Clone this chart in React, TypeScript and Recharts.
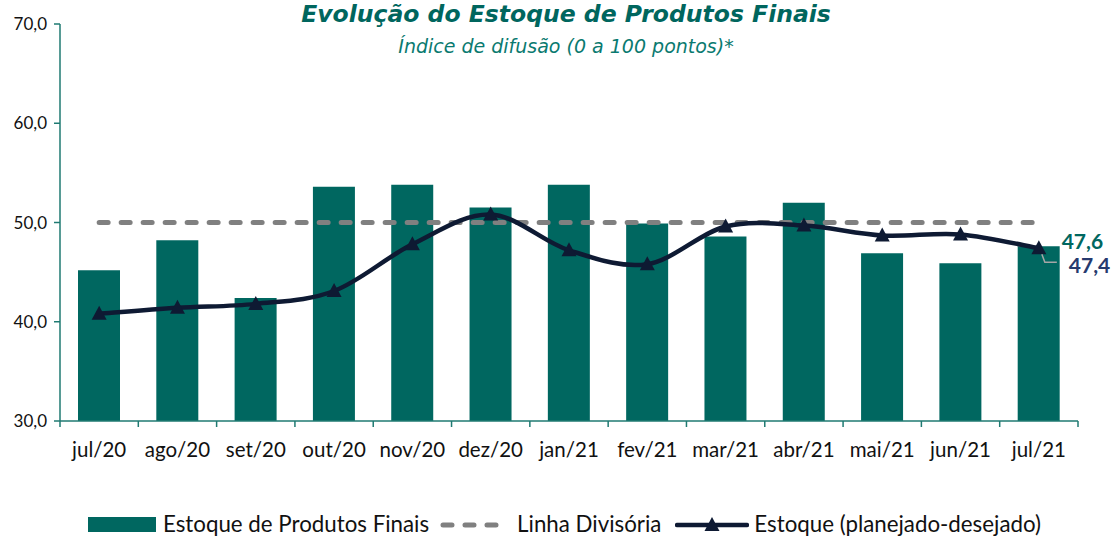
import { ComposedChart, Bar, Line, XAxis, YAxis, LabelList } from 'recharts';

const months = ['jul/20', 'ago/20', 'set/20', 'out/20', 'nov/20', 'dez/20', 'jan/21', 'fev/21', 'mar/21', 'abr/21', 'mai/21', 'jun/21', 'jul/21'];
const estoqueFinais = [45.2, 48.2, 42.4, 53.6, 53.8, 51.5, 53.8, 49.9, 48.6, 52.0, 46.9, 45.9, 47.6];
const planejadoDesejado = [40.8, 41.4, 41.8, 43.1, 47.8, 50.8, 47.2, 45.8, 49.6, 49.7, 48.7, 48.8, 47.4];
const linhaDivisoria = [50, 50, 50, 50, 50, 50, 50, 50, 50, 50, 50, 50, 50];
const yTicks = [30, 40, 50, 60, 70];

const data = months.map((m, i) => ({
  mes: m,
  estoque: estoqueFinais[i],
  linha: linhaDivisoria[i],
  planejado: planejadoDesejado[i],
}));

const TEAL = '#006760';
const NAVY = '#0e1a33';
const AXIS = '#1f7a72';
const FONT = 'Lato, "Open Sans", sans-serif';
const TITLE_FONT = '"DejaVu Sans", Lato, sans-serif';

const W = 1114;
const H = 536;
const LEFT = 60;
const RIGHT = 36;
const TOP = 24;
const BOTTOM = 115;
const band = (W - LEFT - RIGHT) / months.length;

// smooth line like the spreadsheet one (catmull-rom style bezier)
function smoothCurve(context: any) {
  let pts: number[][] = [];
  return {
    areaStart() {},
    areaEnd() {},
    lineStart() {
      pts = [];
    },
    point(x: number, y: number) {
      pts.push([+x, +y]);
    },
    lineEnd() {
      if (!pts.length) return;
      context.moveTo(pts[0][0], pts[0][1]);
      for (let i = 0; i < pts.length - 1; i++) {
        const p0 = pts[i - 1] || pts[i];
        const p1 = pts[i];
        const p2 = pts[i + 1];
        const p3 = pts[i + 2] || p2;
        context.bezierCurveTo(
          p1[0] + (p2[0] - p0[0]) / 6,
          p1[1] + (p2[1] - p0[1]) / 6,
          p2[0] - (p3[0] - p1[0]) / 6,
          p2[1] - (p3[1] - p1[1]) / 6,
          p2[0],
          p2[1]
        );
      }
    },
  };
}

const Triangle = (props: any) => {
  const { cx, cy } = props;
  if (cx == null || cy == null) return null;
  return <polygon points={`${cx},${cy - 8} ${cx - 7.5},${cy + 6} ${cx + 7.5},${cy + 6}`} fill={NAVY} />;
};

const XTick = (props: any) => {
  const { x, y, payload, index } = props;
  return (
    <g>
      <line x1={x - band / 2} y1={y} x2={x - band / 2} y2={y + 6} stroke={AXIS} strokeWidth={1.5} />
      {index === months.length - 1 && (
        <line x1={x + band / 2} y1={y} x2={x + band / 2} y2={y + 6} stroke={AXIS} strokeWidth={1.5} />
      )}
      <text x={x} y={y + 36} textAnchor="middle" fontSize={20.5} fill="#111" fontFamily={FONT}>
        {payload.value}
      </text>
    </g>
  );
};

const BarLabel = (props: any) => {
  const { x, y, width, index } = props;
  if (index !== months.length - 1) return null;
  return (
    <text x={x + width + 2} y={y + 3} fontSize={21} fontWeight={700} fill={TEAL} fontFamily={FONT}>
      {estoqueFinais[index].toFixed(1).replace('.', ',')}
    </text>
  );
};

const LineLabel = (props: any) => {
  const { x, y, index } = props;
  if (index !== months.length - 1) return null;
  return (
    <g>
      <polyline points={`${x + 3},${y + 6} ${x + 6},${y + 14} ${x + 18},${y + 14}`} fill="none" stroke="#a6a6a6" strokeWidth={1.5} />
      <text x={x + 30} y={y + 25} fontSize={21} fontWeight={700} fill="#263a6e" fontFamily={FONT}>
        {planejadoDesejado[index].toFixed(1).replace('.', ',')}
      </text>
    </g>
  );
};

const LegendRow = () => (
  <div
    style={{
      position: 'absolute',
      top: 511,
      left: 88,
      display: 'flex',
      alignItems: 'center',
      fontFamily: FONT,
      fontSize: 22.3,
      lineHeight: '26px',
      color: '#111',
      whiteSpace: 'nowrap',
    }}
  >
    <svg width={68} height={18}>
      <rect x={0} y={2} width={68} height={15} fill={TEAL} />
    </svg>
    <span style={{ marginLeft: 7, marginRight: 10 }}>Estoque de Produtos Finais</span>
    <svg width={66} height={18}>
      <line x1={4} y1={10} x2={62} y2={10} stroke="#808080" strokeWidth={5} strokeDasharray="9 13" strokeLinecap="round" />
    </svg>
    <span style={{ marginLeft: 12, marginRight: 14 }}>Linha Divisória</span>
    <svg width={74} height={18}>
      <line x1={2} y1={10} x2={72} y2={10} stroke={NAVY} strokeWidth={4.5} strokeLinecap="round" />
      <polygon points="37,2 29.5,16 44.5,16" fill={NAVY} />
    </svg>
    <span style={{ marginLeft: 5 }}>Estoque (planejado-desejado)</span>
  </div>
);

export default function App() {
  return (
    <div style={{ position: 'absolute', left: 0, top: 0, width: W, height: H, background: '#fff' }}>
      <div
        style={{
          position: 'absolute',
          top: 0,
          left: 18,
          width: W - 18,
          textAlign: 'center',
          fontFamily: TITLE_FONT,
          color: '#00665e',
          fontSize: 23.5,
          fontWeight: 700,
          fontStyle: 'italic',
          whiteSpace: 'nowrap',
        }}
      >
        Evolução do Estoque de Produtos Finais
      </div>
      <div
        style={{
          position: 'absolute',
          top: 35,
          left: 18,
          width: W - 18,
          textAlign: 'center',
          fontFamily: TITLE_FONT,
          color: '#0a7a70',
          fontSize: 19,
          fontStyle: 'italic',
          whiteSpace: 'nowrap',
        }}
      >
        Índice de difusão (0 a 100 pontos)*
      </div>
      <ComposedChart width={W} height={H} data={data} margin={{ top: TOP, right: RIGHT, left: 0, bottom: BOTTOM - 40 }}>
        <XAxis
          dataKey="mes"
          height={40}
          tickSize={0}
          tickMargin={0}
          tickLine={false}
          axisLine={{ stroke: AXIS, strokeWidth: 1.5 }}
          tick={<XTick />}
          interval={0}
        />
        <YAxis
          width={LEFT}
          domain={[30, 70]}
          ticks={yTicks}
          interval={0}
          tickSize={6}
          tickMargin={7}
          axisLine={{ stroke: AXIS, strokeWidth: 1.5 }}
          tickLine={{ stroke: AXIS, strokeWidth: 1.5 }}
          tick={{ fontSize: 17, fill: '#111', fontFamily: FONT }}
          tickFormatter={(v: number) => v.toFixed(1).replace('.', ',')}
        />
        <Bar dataKey="estoque" name="Estoque de Produtos Finais" fill={TEAL} barSize={42} isAnimationActive={false}>
          <LabelList dataKey="estoque" content={<BarLabel />} />
        </Bar>
        <Line
          dataKey="linha"
          name="Linha Divisória"
          stroke="#808080"
          strokeWidth={5}
          strokeDasharray="9 13"
          strokeLinecap="round"
          dot={false}
          activeDot={false}
          isAnimationActive={false}
        />
        <Line
          dataKey="planejado"
          name="Estoque (planejado-desejado)"
          type={smoothCurve as any}
          stroke={NAVY}
          strokeWidth={4.5}
          dot={<Triangle />}
          activeDot={false}
          isAnimationActive={false}
        >
          <LabelList dataKey="planejado" content={<LineLabel />} />
        </Line>
      </ComposedChart>
      <LegendRow />
    </div>
  );
}
